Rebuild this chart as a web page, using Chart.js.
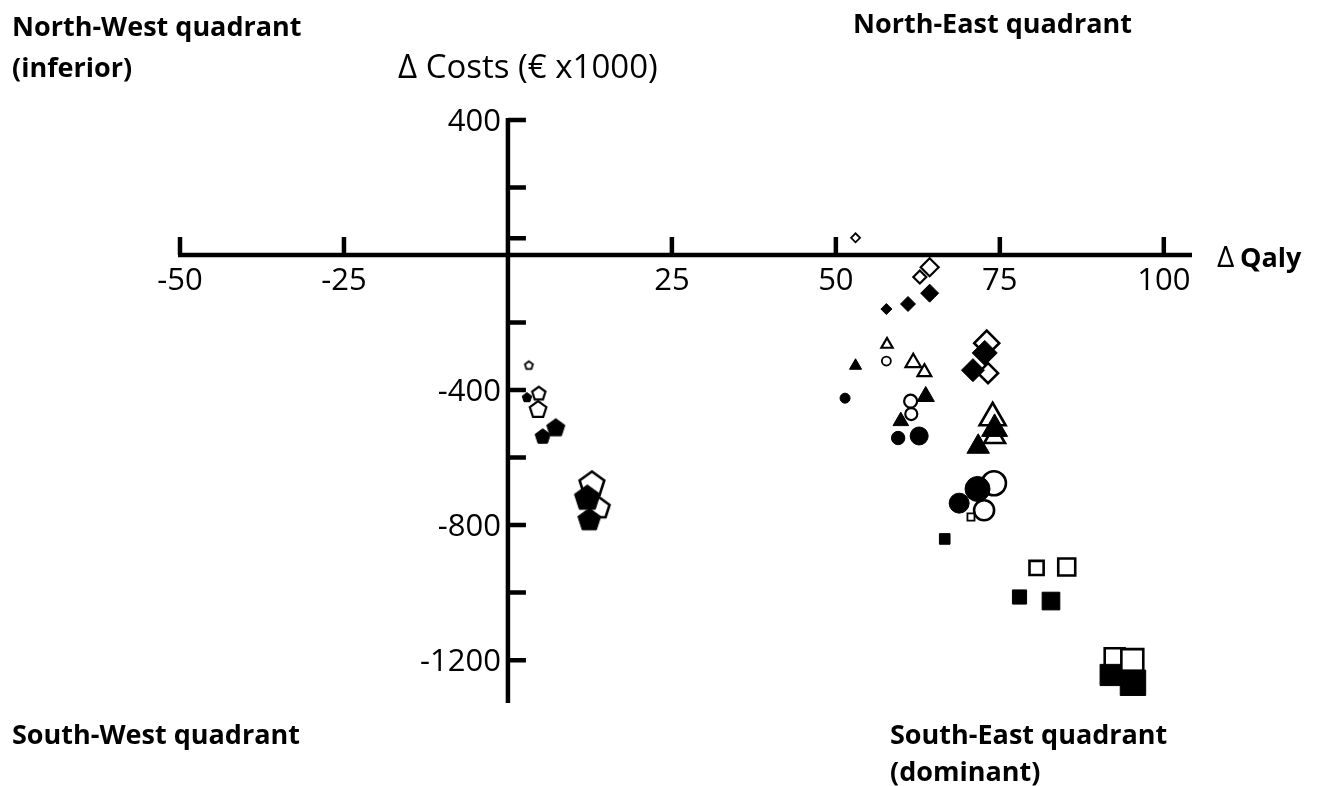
<!DOCTYPE html>
<html>
<head>
<meta charset="utf-8">
<title>Cost-effectiveness plane</title>
<script src="https://cdn.jsdelivr.net/npm/chart.js@4.4.1/dist/chart.umd.min.js"></script>
<style>
  html, body { margin: 0; padding: 0; background: #fff; }
  #wrap { width: 1320px; height: 786px; }
</style>
</head>
<body>
<div id="wrap"><canvas id="plane" width="1320" height="786"></canvas></div>
<script>
// Axis ticks (Δ Qaly on x, Δ costs in € x1000 on y)
const xTicks = [-50, -25, 25, 50, 75, 100];
const xTickLabels = ['-50', '-25', '25', '50', '75', '100'];
const yTicks = [400, 200, 50, -200, -400, -600, -800, -1000, -1200];
const yTickLabels = ['400', '', '', '', '-400', '', '-800', '', '-1200'];

// Values, one pair of arrays per marker group
const pentOpenQaly = [3.2, 4.7, 4.6, 12.8, 13.9];
const pentOpenCost = [-326, -409, -456, -676, -747];
const pentFilledQaly = [2.9, 5.3, 7.3, 12.1, 12.4];
const pentFilledCost = [-421, -536, -510, -717, -782];

const diamOpenQaly = [53.0, 62.8, 64.3, 73.0, 73.2];
const diamOpenCost = [51, -65, -36, -261, -350];
const diamFilledQaly = [57.7, 61.0, 64.3, 72.7, 70.9];
const diamFilledCost = [-160, -145, -113, -290, -341];

const triOpenQaly = [57.8, 61.8, 63.5, 73.9, 74.2];
const triOpenCost = [-265, -319, -347, -482, -539];
const triFilledQaly = [53.0, 59.9, 63.7, 74.2, 71.7];
const triFilledCost = [-328, -492, -419, -515, -568];

const circOpenQaly = [57.7, 61.4, 61.5, 74.1, 72.6];
const circOpenCost = [-314, -433, -471, -676, -756];
const circFilledQaly = [51.4, 59.5, 62.7, 71.6, 68.8];
const circFilledCost = [-424, -542, -536, -693, -735];

const sqOpenQaly = [70.6, 80.6, 85.2, 92.5, 95.2];
const sqOpenCost = [-776, -927, -924, -1194, -1200];
const sqFilledQaly = [66.6, 78.0, 82.8, 91.9, 95.3];
const sqFilledCost = [-841, -1013, -1025, -1244, -1267];

// Marker radii (px), same order as the values above
const pentOpenSize = [4.2, 7, 8.7, 13, 11];
const pentFilledSize = [5, 8, 9.5, 13.5, 12];
const diamOpenSize = [4.5, 6.5, 9, 12.5, 10];
const diamFilledSize = [5.5, 7.5, 9, 12.5, 11.5];
const triOpenSize = [6.5, 9, 8, 15, 12];
const triFilledSize = [7, 9, 10, 15, 13];
const circOpenSize = [4.5, 6.5, 6, 12, 10];
const circFilledSize = [5, 6.7, 9, 12.5, 10];
const sqOpenSize = [5, 10, 12, 14, 15.5];
const sqFilledSize = [7.5, 10, 12.5, 15, 18];

// open markers get a slightly thinner outline when small
function outlineWidth(r) {
    return r < 6 ? 1.8 : (r < 10 ? 2.2 : 2.6);
}

// Chart.js has no pentagon, so build small canvases for it
const pentCache = {};
function pentagon(r, filled) {
    const key = r + (filled ? 'f' : 'o');
    if (pentCache[key]) return pentCache[key];
    const c = document.createElement('canvas');
    const s = Math.ceil(r * 2 + 6);
    c.width = s;
    c.height = s;
    const g = c.getContext('2d');
    g.beginPath();
    for (let k = 0; k < 5; k++) {
        const a = -Math.PI / 2 + k * 2 * Math.PI / 5;
        g.lineTo(s / 2 + r * Math.cos(a), s / 2 + r * Math.sin(a) + r * 0.095);
    }
    g.closePath();
    g.fillStyle = filled ? '#000' : '#fff';
    g.fill();
    g.lineJoin = 'miter';
    g.lineWidth = filled ? 1 : outlineWidth(r);
    g.strokeStyle = '#000';
    g.stroke();
    pentCache[key] = c;
    return c;
}

function markerSet(xs, ys, sizes, shape, filled) {
    return {
        data: xs.map((v, i) => ({ x: v, y: ys[i] })),
        pointStyle: shape === 'pentagon'
            ? (ctx => pentagon(sizes[ctx.dataIndex] || 8, filled))
            : shape,
        pointRadius: sizes,
        pointHoverRadius: sizes,
        pointBackgroundColor: filled ? '#000' : '#fff',
        pointBorderColor: '#000',
        pointBorderWidth: filled ? 1 : sizes.map(outlineWidth),
        showLine: false,
        clip: false,
        order: filled ? 0 : 1
    };
}

// Draw the axes crossing at the origin, using the chart's own scales
const crossAxes = {
    id: 'crossAxes',
    beforeDatasetsDraw(chart) {
        const { ctx, chartArea: a, scales: { x, y } } = chart;
        const x0 = x.getPixelForValue(0);
        const y0 = y.getPixelForValue(0);
        ctx.save();
        ctx.strokeStyle = '#000';
        ctx.lineWidth = 4.5;
        ctx.beginPath();
        ctx.moveTo(a.left - 2, y0);
        ctx.lineTo(a.right, y0);
        ctx.moveTo(x0, a.top - 2);
        ctx.lineTo(x0, a.bottom);
        xTicks.forEach(v => {
            const p = x.getPixelForValue(v);
            ctx.moveTo(p, y0);
            ctx.lineTo(p, y0 - 18);
        });
        yTicks.forEach(v => {
            const p = y.getPixelForValue(v);
            ctx.moveTo(x0, p);
            ctx.lineTo(x0 + 18, p);
        });
        ctx.stroke();

        ctx.fillStyle = '#000';
        ctx.font = '31px "Open Sans"';
        ctx.textBaseline = 'alphabetic';
        ctx.textAlign = 'center';
        xTicks.forEach((v, i) => {
            ctx.fillText(xTickLabels[i], x.getPixelForValue(v), y0 + 35);
        });
        ctx.textAlign = 'right';
        yTicks.forEach((v, i) => {
            if (yTickLabels[i]) ctx.fillText(yTickLabels[i], x0 - 7, y.getPixelForValue(v) + 11);
        });

        // axis titles and quadrant names
        ctx.textAlign = 'left';
        ctx.font = '33px "Open Sans"';
        ctx.fillText('Δ Costs (€ x1000)', 398, 78);
        ctx.font = '30px "Open Sans"';
        ctx.fillText('Δ', 1217, 267);
        ctx.font = 'bold 27px "Open Sans"';
        ctx.fillText('Qaly', 1240, 267);
        ctx.fillText('North-West quadrant', 12, 36);
        ctx.fillText('(inferior)', 12, 77);
        ctx.fillText('North-East quadrant', 853, 33);
        ctx.fillText('South-West quadrant', 12, 744);
        ctx.fillText('South-East quadrant', 890, 744);
        ctx.fillText('(dominant)', 890, 781);
        ctx.restore();
    }
};

function initPlane() {
    Chart.defaults.font.family = '"Open Sans", sans-serif';
    new Chart(document.getElementById('plane'), {
        type: 'scatter',
        data: {
            datasets: [
                markerSet(pentFilledQaly, pentFilledCost, pentFilledSize, 'pentagon', true),
                markerSet(pentOpenQaly, pentOpenCost, pentOpenSize, 'pentagon', false),
                markerSet(diamFilledQaly, diamFilledCost, diamFilledSize, 'rectRot', true),
                markerSet(diamOpenQaly, diamOpenCost, diamOpenSize, 'rectRot', false),
                markerSet(triFilledQaly, triFilledCost, triFilledSize, 'triangle', true),
                markerSet(triOpenQaly, triOpenCost, triOpenSize, 'triangle', false),
                markerSet(circFilledQaly, circFilledCost, circFilledSize, 'circle', true),
                markerSet(circOpenQaly, circOpenCost, circOpenSize, 'circle', false),
                markerSet(sqFilledQaly, sqFilledCost, sqFilledSize, 'rect', true),
                markerSet(sqOpenQaly, sqOpenCost, sqOpenSize, 'rect', false)
            ]
        },
        options: {
            responsive: false,
            animation: false,
            events: [],
            layout: { padding: { left: 180, right: 128, top: 120, bottom: 83 } },
            scales: {
                x: { type: 'linear', min: -50, max: 104.3, display: false },
                y: { type: 'linear', min: -1327, max: 400, display: false }
            },
            plugins: {
                legend: { display: false },
                tooltip: { enabled: false }
            }
        },
        plugins: [crossAxes]
    });
}

document.addEventListener('DOMContentLoaded', initPlane);
</script>
</body>
</html>
